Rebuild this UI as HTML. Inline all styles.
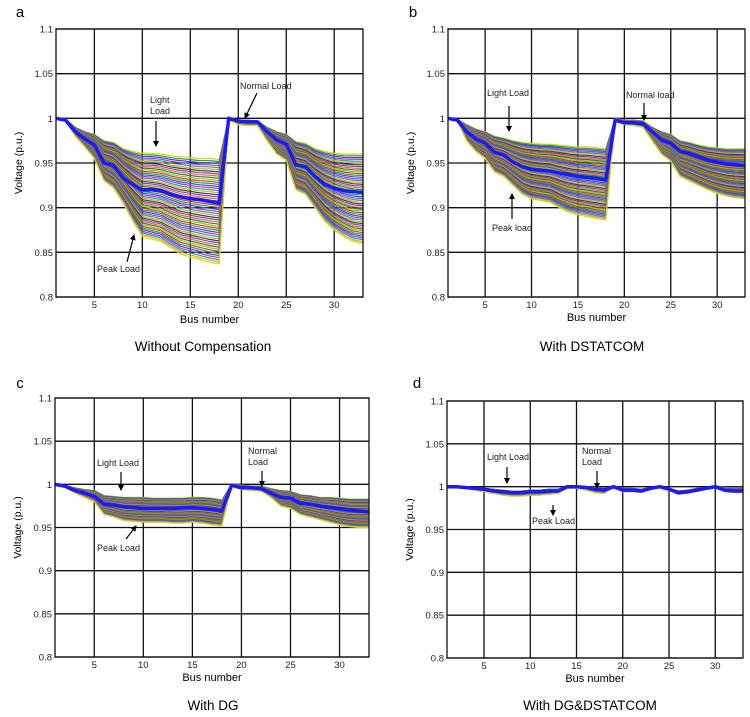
<!DOCTYPE html>
<html><head><meta charset="utf-8"><style>
body{margin:0;background:#fff;}
svg{display:block;font-family:"Liberation Sans",sans-serif;}
</style></head><body>
<svg id="fig" width="750" height="717" viewBox="0 0 750 717"></svg>
<script>
const buses=[];for(let i=1;i<=33;i++)buses.push(i);
const yTicks=[0.8,0.85,0.9,0.95,1,1.05,1.1];
const yTickLabels=["0.8","0.85","0.9","0.95","1","1.05","1.1"];
const xTicks=[5,10,15,20,25,30];
// Panel a
const lightA=[1,.999,.99,.985,.982,.975,.973,.966,.963,.961,.961,.96,.958,.957,.956,.955,.955,.954,1.0,.998,.998,.997,.99,.985,.982,.974,.972,.966,.963,.961,.96,.96,.96];
const normalA=[1,.998,.985,.977,.97,.95,.947,.933,.926,.92,.92,.919,.915,.912,.91,.909,.907,.905,1.0,.997,.996,.996,.985,.976,.971,.948,.946,.935,.926,.922,.919,.918,.917];
const peakA=[1,.997,.98,.968,.955,.93,.922,.905,.885,.868,.865,.862,.855,.848,.845,.842,.839,.837,.998,.993,.992,.992,.975,.96,.953,.92,.915,.9,.885,.875,.868,.862,.86];
// Panel b
const lightB=[1,.999,.993,.988,.985,.98,.978,.975,.973,.972,.971,.971,.97,.969,.968,.968,.967,.966,1.0,.998,.998,.997,.99,.985,.982,.975,.973,.97,.968,.967,.966,.966,.966];
const normalB=[1,.998,.985,.977,.972,.962,.959,.951,.946,.943,.942,.941,.939,.937,.935,.934,.933,.931,.998,.995,.995,.994,.985,.976,.972,.963,.961,.957,.953,.951,.949,.948,.947];
const peakB=[1,.997,.975,.963,.955,.94,.935,.925,.915,.91,.908,.906,.9,.895,.892,.89,.888,.886,.998,.993,.992,.99,.975,.96,.952,.935,.93,.925,.92,.916,.913,.911,.91];
// Panel c
const lightC=[1,.999,.996,.994,.993,.987,.986,.985,.985,.985,.984,.984,.984,.984,.985,.985,.984,.982,1.0,.999,.998,.998,.995,.993,.992,.988,.987,.985,.985,.984,.983,.983,.983];
const normalC=[1,.998,.993,.99,.986,.977,.976,.974,.973,.972,.972,.972,.972,.973,.973,.972,.971,.969,.999,.996,.996,.995,.99,.985,.984,.978,.977,.975,.973,.972,.97,.969,.968];
const peakC=[1,.997,.99,.985,.98,.965,.962,.958,.957,.956,.956,.956,.955,.955,.956,.955,.953,.952,.998,.994,.993,.992,.985,.975,.972,.965,.962,.959,.956,.953,.951,.95,.95];
// Panel d
const lightD=[1,1,.999,.999,.998,.997,.996,.995,.995,.996,.996,.997,.997,1.0,1.0,1.0,.999,.998,1.0,.998,.998,.997,.999,1.0,.998,.995,.996,.998,.999,1.001,.999,.999,.999];
const normalD=[1,1,.999,.998,.997,.995,.994,.993,.993,.994,.994,.995,.995,1.0,1.0,.999,.997,.996,1.0,.996,.996,.995,.998,1.0,.997,.993,.994,.996,.998,1.0,.996,.995,.995];
const peakD=[1,.999,.998,.996,.994,.992,.99,.989,.989,.99,.99,.991,.992,.998,.998,.996,.993,.992,.999,.994,.994,.993,.997,1.0,.996,.991,.992,.995,.997,.999,.994,.993,.993];

const fanColors=["#e03030","#30a030","#3050e0","#c030c0","#20a0a0","#d0b020","#404040","#8040c0","#e07030","#208040","#90c030"];
const panels=[
 {id:"a",L:56,R:363,T:29,B:297,light:lightA,normal:normalA,peak:peakA,letter:[20,17],cap:"Without Compensation",capX:203,capY:351,xlY:323},
 {id:"b",L:448,R:745,T:29,B:297,light:lightB,normal:normalB,peak:peakB,letter:[413,17],cap:"With DSTATCOM",capX:592,capY:351,xlY:321},
 {id:"c",L:55,R:369,T:398,B:657,light:lightC,normal:normalC,peak:peakC,letter:[20,388],cap:"With DG",capX:213,capY:710,xlY:681},
 {id:"d",L:447,R:743,T:401,B:658,light:lightD,normal:normalD,peak:peakD,letter:[417,388],cap:"With DG&DSTATCOM",capX:590,capY:710,xlY:682}
];
const annots={
 a:[{t:["Light","Load"],x:150,y:103,ax1:156,ay1:121,ax2:156,ay2:146,name:"light-load-label"},
    {t:["Normal Load"],x:240,y:89,ax1:257,ay1:93,ax2:245,ay2:118,name:"normal-load-label"},
    {t:["Peak Load"],x:97,y:272,ax1:127,ay1:262,ax2:134,ay2:235,name:"peak-load-label"}],
 b:[{t:["Light Load"],x:487,y:96,ax1:509,ay1:106,ax2:509,ay2:131,name:"light-load-label"},
    {t:["Normal load"],x:626,y:98,ax1:644,ay1:103,ax2:644,ay2:120,name:"normal-load-label"},
    {t:["Peak load"],x:492,y:231,ax1:512,ay1:219,ax2:512,ay2:194,name:"peak-load-label"}],
 c:[{t:["Light Load"],x:97,y:466,ax1:121,ay1:472,ax2:121,ay2:490,name:"light-load-label"},
    {t:["Normal","Load"],x:248,y:454,ax1:262,ay1:471,ax2:262,ay2:486,name:"normal-load-label"},
    {t:["Peak Load"],x:97,y:551,ax1:126,ay1:539,ax2:136,ay2:526,name:"peak-load-label"}],
 d:[{t:["Light Load"],x:487,y:460,ax1:507,ay1:467,ax2:507,ay2:483,name:"light-load-label"},
    {t:["Normal","Load"],x:582,y:454,ax1:597,ay1:471,ax2:597,ay2:488,name:"normal-load-label"},
    {t:["Peak Load"],x:532,y:524,ax1:553,ay1:505,ax2:553,ay2:515,name:"peak-load-label"}]
};
const NS="http://www.w3.org/2000/svg";
const svg=document.getElementById('fig');
function mk(tag,attrs,parent){const e=document.createElementNS(NS,tag);for(const k in attrs)e.setAttribute(k,attrs[k]);(parent||svg).appendChild(e);return e;}
const defs=mk('defs',{});
const mrk=mk('marker',{id:'arr',markerWidth:6,markerHeight:6,refX:5,refY:3,orient:'auto',markerUnits:'userSpaceOnUse'},defs);
mk('path',{d:'M0,0 L6,3 L0,6 z',fill:'#000'},mrk);

panels.forEach(p=>{
 const g=mk('g',{});
 
 
 const xs=v=>p.L+(v-1)/32*(p.R-p.L);
 const ys=v=>p.B-(v-0.8)/0.3*(p.B-p.T);
 const clip=mk('clipPath',{id:'clip'+p.id},defs);
 mk('rect',{x:p.L,y:p.T,width:p.R-p.L,height:p.B-p.T},clip);
 yTicks.forEach((t,i)=>{
  const l=mk('line',{x1:p.L,x2:p.R,y1:ys(t),y2:ys(t),stroke:'#111','stroke-width':1.3},g);
  
  
  const tx=mk('text',{x:p.L-3,y:ys(t)+3.5,'font-size':9.5,'text-anchor':'end',fill:'#222'},g);
  tx.textContent=yTickLabels[i];
  
  
 });
 xTicks.forEach(t=>{
  const l=mk('line',{x1:xs(t),x2:xs(t),y1:p.T,y2:p.B,stroke:'#111','stroke-width':1.3},g);
  
  
  const tx=mk('text',{x:xs(t),y:p.B+11,'font-size':9.5,'text-anchor':'middle',fill:'#222'},g);
  tx.textContent=t;
  
  
 });
 const fg=mk('g',{'clip-path':'url(#clip'+p.id+')'},g);
 
 
 const N=50;
 for(let k=0;k<=N;k++){
  const f=k/N;
  const col=(k===0||k===N)?'#e0d020':fanColors[k%fanColors.length];
  const pts=buses.map((b,i)=>xs(b).toFixed(1)+','+ys(p.light[i]+(p.peak[i]-p.light[i])*f).toFixed(1)).join(' ');
  const pl=mk('polyline',{points:pts,fill:'none',stroke:col,'stroke-width':1.2},fg);
  
  
 }
 const npts=buses.map((b,i)=>xs(b).toFixed(1)+','+ys(p.normal[i]).toFixed(1)).join(' ');
 const nl=mk('polyline',{points:npts,fill:'none',stroke:'#1a1aff','stroke-width':3.5,'stroke-linejoin':'round'},fg);
 
 
 const fr=mk('rect',{x:p.L,y:p.T,width:p.R-p.L,height:p.B-p.T,fill:'none',stroke:'#111','stroke-width':1.3},g);
 
 
 const yl=mk('text',{x:0,y:0,'font-size':10.5,'text-anchor':'middle',transform:`translate(${p.L-34},${(p.T+p.B)/2}) rotate(-90)`},g);
 yl.textContent='Voltage (p.u.)';
 
 
 const xl=mk('text',{x:(p.L+p.R)/2,y:p.xlY,'font-size':11,'text-anchor':'middle'},g);
 xl.textContent='Bus number';
 
 
 const lt=mk('text',{x:p.letter[0],y:p.letter[1],'font-size':15,'text-anchor':'middle'},g);
 lt.textContent=p.id;
 
 
 const cp=mk('text',{x:p.capX,y:p.capY,'font-size':13.5,'text-anchor':'middle'},g);
 cp.textContent=p.cap;
 
 
 annots[p.id].forEach(a=>{
  const t=mk('text',{x:a.x,y:a.y,'font-size':9,fill:'#222'},g);
  
  
  a.t.forEach((s,i)=>{const ts=mk('tspan',{x:a.x,dy:i?11:0},t);ts.textContent=s;});
  const ar=mk('line',{x1:a.ax1,y1:a.ay1,x2:a.ax2,y2:a.ay2,stroke:'#000','stroke-width':1.2,'marker-end':'url(#arr)'},g);
  
  
 });
});
</script>
</body></html>
